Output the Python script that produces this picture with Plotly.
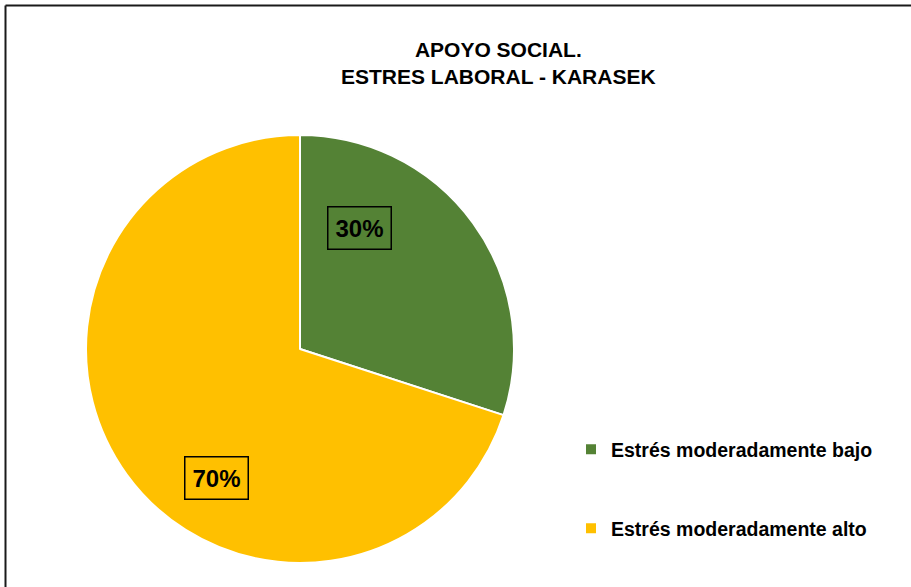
import plotly.graph_objects as go

# datos
categorias = ["Estrés moderadamente bajo", "Estrés moderadamente alto"]
porcentajes = [30, 70]
colores = ["#548235", "#FFC000"]

W, H = 911, 587

# posiciones de las etiquetas con recuadro (paper)
pos_etiquetas = [(359 / W, 1 - 227.5 / H), (216.5 / W, 1 - 478 / H)]

# la primera entrada lleva lineas vacias para separar la leyenda
etiquetas = [categorias[0] + "<br> <br> ", categorias[1]]

fig = go.Figure(
    go.Pie(
        labels=etiquetas,
        values=porcentajes,
        marker=dict(colors=colores, line=dict(color="white", width=2)),
        sort=False,
        direction="clockwise",
        rotation=0,
        textinfo="none",
        hoverinfo="label+percent",
        domain=dict(x=[86 / W, 514 / W], y=[1 - 563 / H, 1 - 135 / H]),
    )
)

for (x, y), v in zip(pos_etiquetas, porcentajes):
    fig.add_annotation(
        x=x, y=y, xref="paper", yref="paper",
        xanchor="center", yanchor="middle",
        text=f"<b>{v}%</b>", showarrow=False,
        font=dict(family="Liberation Sans", size=24, color="black"),
        bordercolor="black", borderwidth=1.5, borderpad=7,
    )

fig.update_layout(
    width=W, height=H,
    margin=dict(l=0, r=0, t=0, b=0),
    paper_bgcolor="white",
    plot_bgcolor="white",
    font=dict(family="Liberation Sans", color="black"),
    title=dict(
        text="<b>APOYO SOCIAL.<br>ESTRES LABORAL - KARASEK</b>",
        x=0.547, xanchor="center", y=1 - 57 / H, yanchor="middle",
        font=dict(family="Liberation Sans", size=21, color="black"),
    ),
    legend=dict(
        x=571 / W, y=1 - 430 / H, xanchor="left", yanchor="top",
        font=dict(family="Liberation Sans", size=19.5, color="black", weight="bold"),
        valign="top", itemwidth=30, bgcolor="rgba(0,0,0,0)",
    ),
    shapes=[
        dict(type="line", xref="paper", yref="paper",
             x0=5.5 / W, x1=1, y0=1 - 5.5 / H, y1=1 - 5.5 / H,
             line=dict(color="#1a1a1a", width=2)),
        dict(type="line", xref="paper", yref="paper",
             x0=5.5 / W, x1=5.5 / W, y0=0, y1=1 - 5.5 / H,
             line=dict(color="#1a1a1a", width=2)),
    ],
)

fig.write_html(
    "out.html",
    config={"displayModeBar": False},
    post_script="document.body.style.margin='0';",
)
